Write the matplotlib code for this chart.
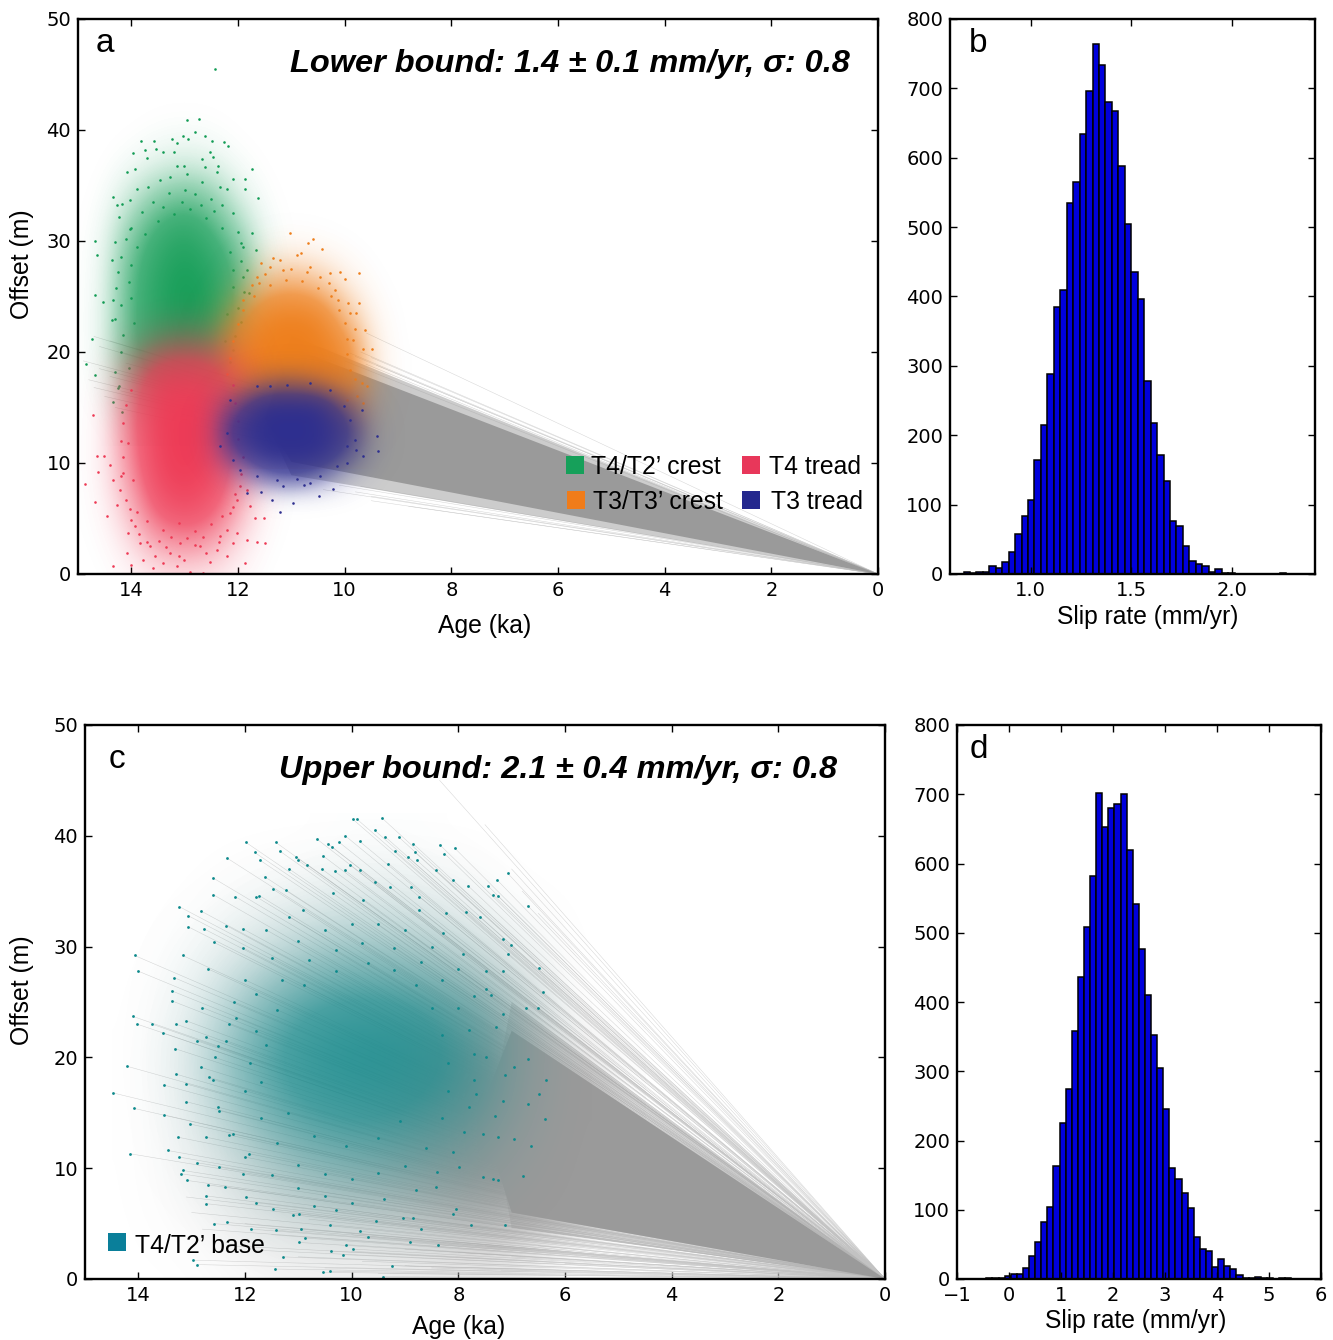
"""
slip rate figure: offset vs age fans and slip rate histograms
dense cloud cores are coarse density tables read off the picture,
the outlying dots and rays are hand read, nothing is sampled
"""
import numpy as np
import matplotlib
matplotlib.use('Agg')
import matplotlib.pyplot as plt
from matplotlib.colors import LinearSegmentedColormap, to_rgba

W, H = 1333, 1340

# histogram b
slip_b_start = 0.667
slip_b_width = 0.032
slip_b_counts = [3, 1, 3, 3, 12, 8, 17, 32, 58, 83, 106, 164, 215, 288, 385, 409, 535, 565, 634, 696,
                 764, 733, 680, 667, 588, 505, 436, 396, 278, 217, 171, 134, 76, 69, 41, 19, 15, 11,
                 3, 7, 1, 2, 0, 0, 0, 0, 0, 0, 0, 2]

# histogram d
slip_d_start = -0.436
slip_d_width = 0.1173
slip_d_counts = [1, 2, 1, 4, 7, 7, 16, 33, 54, 82, 104, 163, 225, 275, 358, 436, 508, 582, 702, 652,
                 680, 686, 700, 620, 542, 476, 410, 353, 304, 245, 160, 145, 124, 102, 60, 44, 40,
                 18, 29, 19, 14, 6, 1, 2, 3, 1, 2, 0, 1, 1]

# cloud density tables, rows go with the offsets, columns with the ages
green_ages = [15, 14.5, 14, 13.5, 13, 12.5, 12, 11.5, 11]
green_offsets = [13, 16, 19, 22, 25, 28, 31, 34, 37, 40, 43]
green_levels = [[0, .00, .02, .05, .05, .05, .02, .00, 0],
                [0, .02, .25, .40, .45, .40, .20, .02, 0],
                [0, .05, .50, .85, .90, .85, .50, .05, 0],
                [0, .07, .55, .85, .95, .90, .55, .07, 0],
                [0, .06, .55, .85, 1.0, .90, .55, .08, 0],
                [0, .05, .50, .80, .95, .80, .50, .06, 0],
                [0, .03, .35, .65, .80, .60, .30, .03, 0],
                [0, .01, .15, .35, .45, .35, .10, .01, 0],
                [0, .00, .03, .08, .12, .08, .02, .00, 0],
                [0, .00, .00, .01, .015, .01, .00, .00, 0],
                [0, 0, 0, 0, 0, 0, 0, 0, 0]]

orange_ages = [13, 12.5, 12, 11.5, 11, 10.5, 10, 9.5, 9]
orange_offsets = [11, 14, 17, 20, 23, 26, 29, 32]
orange_levels = [[0, .00, .02, .05, .05, .05, .02, .00, 0],
                 [0, .02, .40, .70, .80, .70, .45, .05, 0],
                 [0, .10, .85, 1.0, 1.0, 1.0, .80, .12, 0],
                 [0, .10, .90, 1.0, 1.0, 1.0, .85, .10, 0],
                 [0, .04, .45, .95, 1.0, .95, .40, .05, 0],
                 [0, .00, .08, .35, .50, .35, .10, .01, 0],
                 [0, .00, .005, .03, .05, .03, .01, .00, 0],
                 [0, 0, 0, 0, 0, 0, 0, 0, 0]]

red_ages = [15, 14.5, 14, 13.5, 13, 12.5, 12, 11.5, 11]
red_offsets = [0, 3, 6, 9, 12, 15, 18, 21, 24]
red_levels = [[0, .00, .03, .08, .10, .08, .03, .00, 0],
              [0, .01, .12, .35, .45, .35, .12, .01, 0],
              [0, .03, .25, .70, .85, .70, .30, .03, 0],
              [0, .05, .40, .90, 1.0, .90, .45, .05, 0],
              [0, .05, .50, .95, 1.0, .95, .50, .04, 0],
              [0, .04, .50, .95, 1.0, .95, .45, .02, 0],
              [0, .02, .35, .80, .85, .80, .30, .01, 0],
              [0, .00, .05, .20, .30, .20, .05, .00, 0],
              [0, 0, 0, 0, 0, 0, 0, 0, 0]]

blue_ages = [13, 12.5, 12, 11.5, 11, 10.5, 10, 9.5, 9]
blue_offsets = [5, 7, 9, 11, 13, 15, 17, 19, 21]
blue_levels = [[0, 0, 0, 0, 0, 0, 0, 0, 0],
               [0, .00, .00, .02, .03, .02, .01, .00, 0],
               [0, .00, .15, .50, .65, .45, .12, .01, 0],
               [0, .04, .60, 1.0, 1.0, 1.0, .55, .05, 0],
               [0, .05, .90, 1.0, 1.0, 1.0, .80, .06, 0],
               [0, .03, .50, 1.0, 1.0, 1.0, .45, .03, 0],
               [0, .00, .06, .30, .35, .25, .05, .00, 0],
               [0, .00, .00, .01, .02, .01, .00, .00, 0],
               [0, 0, 0, 0, 0, 0, 0, 0, 0]]

teal_ages = [14, 13, 12, 11, 10, 9, 8, 7, 6]
teal_offsets = [0, 4, 8, 12, 16, 20, 24, 28, 32, 36, 40]
teal_levels = [[0, 0, 0, 0, 0, 0, 0, 0, 0],
               [.00, .00, .01, .03, .03, .03, .01, .00, .00],
               [.00, .01, .06, .14, .18, .15, .08, .02, .00],
               [.00, .03, .15, .35, .45, .40, .22, .06, .00],
               [.00, .05, .32, .62, .74, .65, .45, .12, .00],
               [.00, .07, .40, .75, .90, .82, .55, .15, .00],
               [.00, .05, .28, .58, .74, .70, .45, .14, .00],
               [.00, .03, .12, .28, .38, .32, .20, .05, .00],
               [.00, .01, .04, .10, .15, .13, .07, .02, .00],
               [.00, .00, .01, .02, .04, .04, .02, .00, .00],
               [.00, .00, .00, .00, .01, .01, .00, .00, .00]]

# gray under the teal cloud, one age column more than teal
shade_c_ages = [14, 13, 12, 11, 10, 9, 8, 7, 6, 5]
shade_c_offsets = [0, 4, 8, 12, 16, 20, 24, 28, 32, 36, 40]
shade_c_levels = [[0, .00, .05, .10, .10, .12, .15, .15, .00, 0],
                  [0, .03, .15, .25, .30, .35, .50, .55, .10, 0],
                  [0, .08, .25, .40, .55, .75, 1.0, 1.0, 1.0, 0],
                  [0, .10, .30, .45, .55, .85, 1.0, 1.0, 1.0, 0],
                  [0, .12, .30, .45, .55, .85, 1.0, 1.0, 1.0, 0],
                  [0, .12, .30, .45, .55, .80, 1.0, 1.0, .30, 0],
                  [0, .08, .25, .40, .45, .55, .70, .60, .00, 0],
                  [0, .03, .18, .30, .35, .40, .40, .20, .00, 0],
                  [0, .01, .08, .15, .20, .20, .15, .05, .00, 0],
                  [0, .00, .02, .05, .08, .08, .05, .00, .00, 0],
                  [0, 0, 0, 0, 0, 0, 0, 0, 0, 0]]

# hand read dots
green_dot_age = [12.43, 12.96, 12.74, 12.81, 13.04, 13.24, 12.62, 13.81, 13.57, 13.15, 12.93, 12.49, 12.27, 12.18,
                 13.96, 13.74, 13.54, 13.4, 13.2, 12.52, 12.46, 13.7, 14.09, 13.93, 13.15, 13.02, 12.68, 12.62,
                 12.37, 11.74, 11.87, 12.09, 11.87, 12.4, 14.34, 11.62, 14.27, 14.18, 14.02, 13.9, 13.68, 13.46,
                 13.27, 12.96, 12.68, 12.34, 12.21, 14.24, 14.02, 14.68, 14.31, 14.65, 14.37, 11.74, 11.9, 14.68,
                 14.54, 14.34, 14.37, 14.74, 14.85, 14.68, 14.34, 14.24, 14.18, 11.66, 11.84, 11.8,
                 13.6, 13.3, 13, 12.8, 12.5, 12.3, 12.1, 13.8, 14, 14.1, 13.5, 13.2, 12.9, 12.6, 12.3, 12, 11.95,
                 14.2, 14.25, 14.28, 14.2, 14.3, 14.15, 14.2, 11.95, 11.9, 11.88, 12, 11.95, 12.05, 12.1, 12.15,
                 14.05, 14.3, 14.25, 13.9, 14, 14.05, 14, 13.95, 12.15, 12.1, 12.1, 12.2, 12.25, 13.75, 13.4,
                 12.7, 12.45, 13.05]
green_dot_off = [45.5, 40.9, 41, 39.8, 39.5, 39.2, 39.5, 39, 39, 38.8, 39.2, 39, 38.9, 38.6,
                 37.9, 38.2, 38.3, 38, 38, 38, 37.6, 37.5, 36.2, 36.5, 36.8, 36.8, 37.4, 36.7,
                 36.8, 36.5, 35.6, 35.6, 34.7, 36.2, 34, 33.9, 33.2, 33.3, 33.7, 34.7, 34.9, 35.5,
                 35.8, 36, 35.3, 34.9, 34.7, 32.2, 31.1, 30, 29.9, 28.7, 28.3, 30.7, 29.5, 25.1,
                 24.5, 24.7, 22.9, 21.2, 18.9, 17.9, 15.5, 16.9, 14.6, 29.2, 27.4, 25.3,
                 33.5, 34.3, 34.6, 34.2, 33.8, 33.2, 32.5, 32.6, 31.2, 30.2, 31.8, 32.4, 32.9, 32.1, 31.2, 30.8, 29.8,
                 28.6, 27.2, 25.8, 24.2, 23, 21.5, 20, 28.2, 26.8, 25.4, 24, 22.7, 21.4, 20.2, 19.1,
                 18.6, 18.2, 16.8, 29.5, 27.8, 26.3, 24.9, 22.6, 29, 27.4, 25.9, 23.4, 21, 30.6, 33.1,
                 33.2, 32.7, 33.5]

orange_dot_age = [11.02, 10.59, 10.68, 10.43, 11.21, 11.34, 11.56, 10.9, 10.81, 9.74, 10.09, 9.99, 11.65, 10.27,
                  9.93, 9.78, 9.74, 9.65, 9.49, 9.62, 9.81, 9.9, 10.12, 10.18, 9.84, 9.68, 9.59, 9.77, 9.96,
                  9.65, 11.4, 11.15, 10.65, 10.46, 11.74, 11.9,
                  11.7, 11.4, 11.1, 10.8, 10.5, 10.25, 10.1, 11.9, 12, 10, 9.95, 12.1, 9.95, 9.9, 12.15, 12.2, 9.8,
                  11.5, 11, 10.7, 10.3, 11.6]
orange_dot_off = [30.7, 30.2, 29.8, 29.3, 28.3, 28.5, 28, 28.7, 28.9, 27.1, 27.2, 26.6, 26.8, 27.1,
                  24.4, 23.5, 24.4, 20.3, 20.3, 22, 22.1, 23.5, 24.7, 25.6, 21.1, 17.2, 16.9, 16, 15.7,
                  15.4, 27.7, 27.4, 27.7, 26.8, 26, 24.7,
                  25, 26, 26.5, 26.4, 25.8, 25, 23.8, 23.8, 22.5, 22.6, 21.2, 21, 19.8, 18.4, 19.5, 18, 17.6,
                  27, 27.5, 27.2, 26.2, 26.2]

blue_dot_age = [11.21, 10.96, 11.37, 10.49, 10.21, 11.56, 11.84, 10.77, 11.15, 11.27, 10.9, 10.65, 10.46, 10.15,
                9.96, 9.78, 9.65, 9.37, 9.4, 9.68, 9.81, 9.9, 9.96, 10.02, 10.27, 10.65, 11.09, 11.4, 11.65,
                12.15, 12.21, 12.34, 12.09, 11.96, 11.65]
blue_dot_off = [5.6, 6.4, 6.7, 7, 7.7, 7.4, 7.3, 8, 7.9, 8.5, 8.6, 8.2, 8.8, 9.7,
                10, 11.2, 10.6, 11.1, 12.4, 14.8, 12.1, 13.9, 11.5, 15.1, 16.6, 17.2, 17, 16.9, 16.9,
                15.7, 12.7, 11.5, 10.3, 9.4, 8.8]

red_dot_age = [14.87, 14.69, 14.46, 14.71, 14.65, 14.62, 14.4, 14.52, 14.34, 14.06, 14.09, 14, 14.21, 14.34,
               14.27, 13.93, 13.78, 13.59, 13.15, 12.65, 12.9, 11.87, 12.21, 11.84, 11.49, 11.65, 12.02, 11.52,
               11.68, 11.78, 11.84, 11.96, 12.09, 13.4, 13.84, 13.65, 13.27, 13.02, 12.52, 12.4, 12.34, 13.49,
               13.09, 12.71, 14.02, 14.15, 14.06, 12.15, 12.02, 13.96,
               14.1, 13.9, 13.7, 13.4, 13.1, 12.8, 12.5, 12.3, 12.1, 12.05, 14.2, 14.15, 14.2, 14.15, 14.1, 14,
               11.95, 11.9, 12, 12, 12.05, 12.1, 13.7, 13.35, 13.1, 12.8, 12.6, 12.35, 13.55, 13.85, 14, 12.2,
               12.95, 13.25, 12.65]
red_dot_off = [8.1, 6.5, 5.2, 14.3, 10.6, 9.2, 9.8, 10.6, 0.7, 3.7, 1.9, 0.8, 7.6, 8.5,
               6.2, 4.3, 1.3, 0.5, 0.7, 0.1, 0.2, 1, 1.6, 3.1, 2.8, 2.9, 3.7, 5,
               5, 6.1, 7.6, 7.9, 2.8, 1, 2.8, 2.5, 1.9, 1.3, 1.1, 2.2, 3.4, 3,
               2.8, 2.5, 5.9, 9.1, 11.8, 5.5, 6.7, 8.5,
               6.7, 5.6, 4.8, 4, 4.6, 3.9, 4.5, 5.2, 6, 7.2, 8.8, 10.5, 12, 13.6, 15.2, 16.6,
               9, 10.5, 12.2, 13.8, 15.4, 17, 2.9, 2.4, 1.6, 2.6, 1.9, 2.9, 1.6, 3.6, 4.9, 4,
               3.2, 3.3, 3.3]

teal_dot_age = [9.98, 9.9, 9.43, 9.57, 10.12, 10.65, 10.45, 10.37, 10.23, 9.85, 9.37, 9.12, 8.85, 8.35, 8.07,
                11.42, 11.98, 11.82, 11.34, 11.04, 10.54, 12.34, 11.72, 11.01, 10.83, 10.04, 9.31, 8.78, 8.95,
                8.26, 9.18, 8.81, 12.6, 11.63, 11.17, 10.56, 10.13, 9.85, 10.32, 8.42, 7.07, 7.27, 8.1, 7.82,
                7.45, 7.35, 7.26, 6.7, 12.6, 13.23, 12.82, 13.07, 13.07, 12.77, 12.35, 12.04, 12.18, 11.73,
                11.48, 11.23, 9.57, 8.88, 8.73, 8.23, 7.6, 7.85, 7.17, 7.01, 7.07, 6.48, 14.07, 14.01, 13.17,
                12.7, 12.59, 13.33, 13.37, 13.37, 14.1, 14.02, 13.74, 13.54, 13.29, 13.1, 13.32, 14.21, 14.48,
                14.08, 13.52, 13.51, 14.15, 13.45, 13.17, 13.2, 13.09, 13.23, 13.26, 12.73, 12.73, 12.59, 12.33,
                11.88, 11.42, 10.95, 10.88, 10.99, 12.98, 12.9, 11.43, 11.29, 10.54, 10.4, 9.98, 10.1, 10.38,
                10.17, 9.25, 9.42, 8.38, 8.91, 8.04, 7.13, 7.76, 7.54, 7.35, 7.26, 6.79, 7.26, 6.95, 6.63, 6.38,
                6.7, 6.48, 7.13, 6.95, 6.7, 6.35, 6.42, 6.73, 6.51, 7.17, 7.48, 7.38, 12.73, 12.57, 12.17,
                12.35, 12.82, 12.67, 13.1, 13.04, 12.73, 12.48, 12.23, 11.92, 12.48, 12.04, 12.38, 11.98, 11.48,
                10.98, 10.7, 10.29, 9.85, 9.54, 9.04, 8.85, 8.42, 7.98, 7.54, 7.32, 7.17, 7.66, 7.48, 7.29,
                7.17, 7.48, 7.92, 8.29, 8.73, 9.29, 9.79, 10.35, 10.92, 11.17, 11.6, 12.04, 11.79,
                12, 11.5, 11, 10.5, 10, 9.5, 9, 8.5, 8, 7.7, 12.2, 11.8, 11.3, 10.8, 10.3, 9.8, 9.2, 8.7, 8.3,
                8, 7.8, 7.7, 7.7, 7.8, 7.9, 8.1, 8.4, 8.8, 9.4, 10, 10.5, 11, 11.5, 12, 12.3, 12.5, 12.6, 12.5,
                12.3, 11.8, 11.9, 12, 11.7, 11.4, 11, 10.5, 10, 9.5, 9, 8.6, 8.3, 8.2, 8.2, 8.3, 8.5, 8.8, 9.2,
                9.7, 10.3, 10.9, 11.4, 11.6, 11.7, 11.2, 10.7, 10.1, 9.5, 9.1, 12.9, 12.7, 11.8, 11.1, 10.4,
                9.7, 8.7, 8.1, 13.1, 13.3, 12.9, 12.8]
teal_dot_off = [41.5, 41.5, 41.6, 40.5, 40, 39.7, 39.3, 39, 39.4, 39.5, 39.9, 39.9, 39.3, 39.2, 38.9,
                39.4, 39.4, 38.5, 38.6, 38.1, 38.2, 38, 37.8, 37.8, 37.4, 37.4, 37.5, 37.8, 38.1,
                38.4, 38.6, 38.5, 36.2, 36.3, 37, 37, 36.9, 36.9, 36.8, 36.9, 36.6, 36, 36, 35.5,
                35.5, 34.7, 34.6, 33.7, 34.7, 33.6, 33.2, 32.8, 31.8, 31.6, 31.9, 31.6, 34.5, 34.6,
                35.2, 35.1, 35.8, 35.4, 34.5, 33, 32.7, 33.1, 30.7, 30.1, 29.3, 28.1, 29.2, 27.8, 29.2,
                28, 30.4, 27.2, 26, 25.1, 23.7, 23, 23, 22.2, 23, 23.3, 20.8, 19.2, 16.8,
                15.4, 17.5, 14.8, 11.3, 11.6, 9.8, 9.5, 8.9, 11, 12.8, 7.5, 6.8, 5, 5.1,
                4.5, 4.4, 4.5, 3.7, 3.3, 1.7, 1.3, 0.9, 2, 0.6, 0.7, 2.7, 3.1, 2.5,
                2.2, 1.2, 0.2, 3.1, 3.3, 6.3, 4.9, 4.9, 9.2, 9, 8.9, 9.3, 12.8, 12.6, 12, 14.4,
                15.8, 16.7, 18.4, 19.1, 19.9, 18, 25.9, 24.5, 24.5, 27.8, 26.2, 25.6, 21.8, 20, 23.6,
                21.5, 19.1, 18.2, 17.6, 14, 12.8, 15.2, 13.1, 11.3, 10.1, 9.5, 8.3, 7.4, 6.3,
                5.9, 6.6, 6.2, 4.3, 5.2, 5.5, 5.5, 8.3, 10.1, 13.1, 14.7, 16.1, 16.7, 20, 22.7,
                23.9, 27.8, 29.3, 31.2, 33.3, 35.4, 34.2, 34.8, 33.3, 32.7, 31.5, 29.9, 34.5,
                27, 29, 30.5, 31.5, 32, 32, 31.5, 30, 28, 25.5, 25, 25.7, 27, 28.8, 29.7, 30.3, 29.9, 28.6, 27,
                24.5, 22.5, 20.3, 18, 15.5, 13.3, 11.5, 9.7, 8, 7.2, 6.9, 7.5, 8.2, 9.4, 11, 13, 15.5, 18, 21,
                23, 22.4, 19.5, 17, 14.5, 12.3, 10.3, 9.5, 9, 9.6, 10.2, 11.8, 14.5, 17, 19.5, 22, 24.5, 26.5, 27.9,
                28.5, 27.8, 26.5, 24.3, 21.1, 17.8, 15, 12.9, 12, 12.7, 14.3, 10.5, 8.5, 6.9, 5.8, 4.9,
                3.8, 4.5, 5.9, 16, 18.5, 21.5, 24.5]

# far ends of the separate gray rays
rays_a_age = [9.59, 9.5, 8.8, 9.5, 9.8, 10.4, 10.1, 9.7, 9.8, 9.7, 9.5, 9.9, 10, 9.6, 9.4,
              14.7, 14.9, 14.8, 14.5, 14.3, 14.6, 14.4, 14.2, 14.6, 14.4, 14.2, 14.1, 13.9, 14, 13.5, 14.7]
rays_a_off = [21.7, 6.6, 6.1, 7, 7.4, 7.6, 8, 7.9, 19.6, 20, 19.5, 19.9, 19.2, 18.9, 18.8,
              21.4, 19.2, 17.5, 16, 15, 20.5, 21, 20, 18.5, 17.8, 16.5, 19, 20.3, 17.5, 18.6, 16.8]
rays_c_age = [8.35, 7.5, 7, 6.5, 6.8, 10.5, 9, 11, 12.3, 12.8, 13, 10, 9, 8, 7, 6, 7.5, 11.5, 10, 12,
              8.5, 9.5, 6.5, 5.5, 11.8, 13.1, 9.8, 8.2, 7.2, 10.8]
rays_c_off = [45, 41, 37, 33, 35, 1, 1.2, 2, 3, 4.5, 6, 2.5, 2.7, 2.4, 2, 1.4, 3, 4, 4, 5,
              1, 0.5, 3, 2, 2.6, 7.4, 1.6, 3.4, 0.8, 5.4]

# gray fan outlines, age and offset
core_a_age = [0, 11, 11.5, 11]
core_a_off = [0, 20.4, 14, 10.1]
soft_a_age = [0, 11, 11.5, 11]
soft_a_off = [0, 21.5, 14, 8.9]
core_c_age = [0, 7.0, 7.6, 7.0]
core_c_off = [0, 22.4, 15, 6.0]
soft_c_age = [0, 7.0, 7.4, 7.0]
soft_c_off = [0, 25, 15, 4.6]

# how thick the dots look for each table level, mid levels already read nearly solid
dot_level = [0, 0.3, 0.6, 1]
dot_cover = [0, 0.42, 0.78, 1]

age_ticks = [14, 12, 10, 8, 6, 4, 2, 0]
offset_ticks = [0, 10, 20, 30, 40, 50]
count_ticks = [0, 100, 200, 300, 400, 500, 600, 700, 800]
slip_b_ticks = [1.0, 1.5, 2.0]
slip_d_ticks = [-1, 0, 1, 2, 3, 4, 5, 6]

GRAY = '#9a9a9a'
GREEN = '#129c55'
ORANGE = '#ee7f1c'
RED = '#ee3a55'
BLUE = '#2e2f8f'
TEAL = '#0d8a8c'
SANS = 'Liberation Sans'


def px_axes(fig, left, top, right, bottom):
    return fig.add_axes([left / W, 1 - bottom / H, (right - left) / W, (bottom - top) / H])


def style_axes(ax, xticks, yticks, xlim, ylim):
    ax.set_xlim(*xlim)
    ax.set_ylim(*ylim)
    ax.set_xticks(xticks)
    ax.set_yticks(yticks)
    ax.tick_params(direction='in', length=5, width=1, top=True, right=True, labelsize=14, pad=5)
    for spine in ax.spines.values():
        spine.set_linewidth(1.7)
        spine.set_zorder(20)


def draw_cloud(ax, ages, offsets, levels, color, zorder, top=1.0, curve=True):
    if curve:
        stops = [(lv, to_rgba(color, cv * top)) for lv, cv in zip(dot_level, dot_cover)]
    else:
        stops = [(0, to_rgba(color, 0)), (1, to_rgba(color, 1))]
    cmap = LinearSegmentedColormap.from_list('cloud', stops)
    age_step = abs(ages[1] - ages[0]) / 2
    off_step = abs(offsets[1] - offsets[0]) / 2
    ax.imshow(levels, extent=(ages[0] + age_step, ages[-1] - age_step, offsets[0] - off_step, offsets[-1] + off_step),
              origin='lower', aspect='auto', interpolation='bicubic', interpolation_stage='data',
              cmap=cmap, vmin=0, vmax=1, zorder=zorder)


def draw_rays(ax, ages, offsets, zorder=2):
    for age, off in zip(ages, offsets):
        ax.plot([0, age], [0, off], color='#c2c2c2', lw=0.35, alpha=0.7, zorder=zorder)


def draw_hist(ax, start, width, counts):
    lefts = start + width * np.arange(len(counts))
    ax.bar(lefts, counts, width=width, align='edge', color='#0000dc', edgecolor='black', linewidth=1.1)


fig = plt.figure(figsize=(W / 100, H / 100), dpi=100)

# a
ax_a = px_axes(fig, 78, 19, 878, 574)
draw_rays(ax_a, rays_a_age, rays_a_off)
ax_a.fill(soft_a_age, soft_a_off, color=GRAY, alpha=0.5, lw=0, zorder=3)
ax_a.fill(core_a_age, core_a_off, color=GRAY, lw=0, zorder=3)
draw_cloud(ax_a, green_ages, green_offsets, green_levels, GREEN, 4)
ax_a.scatter(green_dot_age, green_dot_off, s=3.5, color=GREEN, lw=0, zorder=5)
draw_cloud(ax_a, orange_ages, orange_offsets, orange_levels, ORANGE, 6)
ax_a.scatter(orange_dot_age, orange_dot_off, s=3.5, color=ORANGE, lw=0, zorder=7)
draw_cloud(ax_a, red_ages, red_offsets, red_levels, RED, 8)
ax_a.scatter(red_dot_age, red_dot_off, s=3.5, color=RED, lw=0, zorder=9)
draw_cloud(ax_a, blue_ages, blue_offsets, blue_levels, BLUE, 10)
ax_a.scatter(blue_dot_age, blue_dot_off, s=3.5, color=BLUE, lw=0, zorder=11)
style_axes(ax_a, age_ticks, offset_ticks, (15, 0), (0, 50))

# b
ax_b = px_axes(fig, 950, 19, 1315, 574)
draw_hist(ax_b, slip_b_start, slip_b_width, slip_b_counts)
style_axes(ax_b, slip_b_ticks, count_ticks, (0.6, 2.41), (0, 800))

# c
ax_c = px_axes(fig, 85, 725, 885, 1279)
draw_rays(ax_c, rays_c_age, rays_c_off)
draw_rays(ax_c, teal_dot_age, teal_dot_off)
ax_c.fill(soft_c_age, soft_c_off, color=GRAY, alpha=0.35, lw=0, zorder=3)
ax_c.fill(core_c_age, core_c_off, color=GRAY, lw=0, zorder=3)
draw_cloud(ax_c, shade_c_ages, shade_c_offsets, shade_c_levels, GRAY, 3, curve=False)
draw_cloud(ax_c, teal_ages, teal_offsets, teal_levels, TEAL, 4, top=0.9)
ax_c.scatter(teal_dot_age, teal_dot_off, s=4, color=TEAL, lw=0, zorder=5)
style_axes(ax_c, age_ticks, offset_ticks, (15, 0), (0, 50))

# d
ax_d = px_axes(fig, 957, 725, 1321, 1279)
draw_hist(ax_d, slip_d_start, slip_d_width, slip_d_counts)
style_axes(ax_d, slip_d_ticks, count_ticks, (-1, 6), (0, 800))
ax_d.set_xticklabels(['\u22121', '0', '1', '2', '3', '4', '5', '6'])


def fig_text(x, y, s, **kw):
    fig.text(x / W, 1 - y / H, s, ha=kw.pop('ha', 'center'), va=kw.pop('va', 'center'), zorder=30, **kw)


fig_text(570, 64, 'Lower bound: 1.4 \u00b1 0.1 mm/yr, \u03c3: 0.8', family=SANS, fontsize=23.4, weight='bold', style='italic')
fig_text(558, 770, 'Upper bound: 2.1 \u00b1 0.4 mm/yr, \u03c3: 0.8', family=SANS, fontsize=23.4, weight='bold', style='italic')

for x, y, s in [(105, 44, 'a'), (978, 43, 'b'), (117, 760, 'c'), (979, 749, 'd')]:
    fig_text(x, y, s, family=SANS, fontsize=24)

fig_text(485, 626, 'Age (ka)', family=SANS, fontsize=17.8)
fig_text(459, 1327, 'Age (ka)', family=SANS, fontsize=17.8)
fig_text(22, 264, 'Offset (m)', family=SANS, fontsize=17.8, rotation=90)
fig_text(22, 990, 'Offset (m)', family=SANS, fontsize=17.8, rotation=90)
fig_text(1148, 617, 'Slip rate (mm/yr)', family=SANS, fontsize=17.7)
fig_text(1136, 1321, 'Slip rate (mm/yr)', family=SANS, fontsize=17.7)

legend_names = ["T4/T2\u2019 crest", "T3/T3\u2019 crest", 'T4 tread', 'T3 tread', "T4/T2\u2019 base"]
legend_colors = ['#16a05a', '#f07c1a', '#e8375a', '#24288e', '#0a7f9a']
legend_text_x = [591, 593, 769, 771, 135]
legend_text_y = [467, 502, 467, 502, 1246]
legend_box_x = [575, 576, 751, 751, 117]
legend_box_y = [465, 500, 465, 500, 1242]
for name, color, tx, ty, bx, by in zip(legend_names, legend_colors, legend_text_x, legend_text_y, legend_box_x, legend_box_y):
    fig_text(tx, ty, name, family=SANS, fontsize=17.8, ha='left')
    fig.add_artist(plt.Rectangle(((bx - 9) / W, 1 - (by + 9) / H), 18 / W, 18 / H, transform=fig.transFigure,
                                 facecolor=color, edgecolor='none', zorder=30))

fig.savefig('out.png', dpi=100)
